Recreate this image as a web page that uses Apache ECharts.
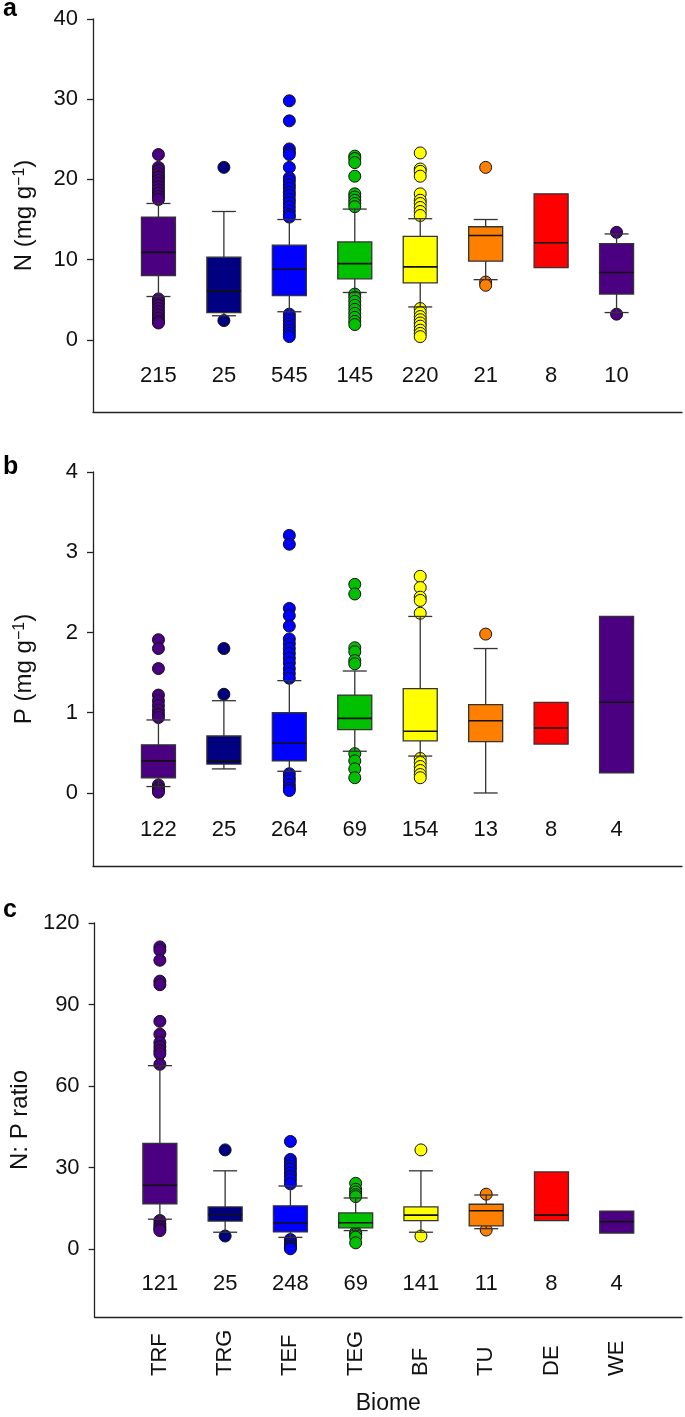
<!DOCTYPE html>
<html><head><meta charset="utf-8">
<script src="https://cdn.jsdelivr.net/npm/echarts@6/dist/echarts.min.js"></script>
<style>html,body{margin:0;padding:0;background:#fff}#c{width:685px;height:1417px}</style>
</head><body><div id="c"></div>
<script>
// ---------- data ----------
const biomes = ['TRF','TRG','TEF','TEG','BF','TU','DE','WE'];
const biomeColors = ['#4B0082','#000080','#0000FF','#00C000','#FFFF00','#FF8000','#FF0000','#4B0082'];

const nCounts  = [215, 25, 545, 145, 220, 21, 8, 10];
const pCounts  = [122, 25, 264, 69, 154, 13, 8, 4];
const npCounts = [121, 25, 248, 69, 141, 11, 8, 4];

const nTicks  = [0, 10, 20, 30, 40];
const pTicks  = [0, 1, 2, 3, 4];
const npTicks = [0, 30, 60, 90, 120];

// [lower whisker, Q1, median, Q3, upper whisker]
const nStats = [
  [5.4, 8.0, 10.9, 15.3, 17.0],
  [3.0, 3.4, 6.1, 10.3, 16.0],
  [3.5, 5.5, 8.8, 11.8, 15.0],
  [5.9, 7.6, 9.5, 12.2, 16.3],
  [4.1, 7.1, 9.1, 12.9, 15.1],
  [7.5, 9.8, 13.0, 14.1, 15.0],
  [9.0, 9.0, 12.1, 18.2, 18.2],
  [3.4, 5.7, 8.4, 12.0, 13.2]
];
const pStats = [
  [0.08, 0.19, 0.40, 0.60, 0.91],
  [0.30, 0.36, 0.40, 0.71, 1.15],
  [0.27, 0.40, 0.62, 1.00, 1.40],
  [0.52, 0.79, 0.93, 1.22, 1.52],
  [0.46, 0.65, 0.77, 1.30, 2.20],
  [0.00, 0.64, 0.90, 1.10, 1.80],
  [0.61, 0.61, 0.81, 1.13, 1.13],
  [0.25, 0.25, 1.13, 2.20, 2.20]
];
const npStats = [
  [11.0, 16.6, 23.5, 38.9, 67.5],
  [6.2, 10.3, 12.7, 15.5, 28.8],
  [4.3, 6.3, 9.6, 15.9, 23.2],
  [6.8, 7.8, 9.7, 13.3, 18.8],
  [6.2, 10.5, 12.5, 15.5, 28.8],
  [7.5, 8.5, 14.1, 16.5, 19.9],
  [10.5, 10.5, 12.5, 28.4, 28.4],
  [5.9, 5.9, 10.1, 14.0, 14.0]
];

// outliers per biome
const nOutliers = [
  [23.1, 21.5, 21.1, 20.7, 20.3, 19.9, 19.5, 19.1, 18.7, 18.3, 17.9, 17.5, 5.1, 4.7, 4.3, 3.9, 3.5, 3.1, 2.7, 2.3, 2.1],
  [21.5, 2.4],
  [29.8, 27.3, 23.8, 23.4, 23.1, 21.5, 20.2, 19.8, 19.3, 18.9, 18.4, 18.0, 17.5, 17.1, 16.6, 16.1, 15.6, 15.3, 3.2, 2.8, 2.4, 2.0, 1.6, 1.2, 0.8, 0.4],
  [22.9, 22.6, 22.1, 20.4, 18.2, 17.8, 17.4, 17.0, 16.6, 5.7, 5.3, 4.8, 4.3, 3.8, 3.3, 2.8, 2.3, 1.9],
  [23.3, 21.3, 21.0, 20.4, 18.2, 17.4, 17.0, 16.5, 16.0, 15.5, 3.9, 3.4, 2.9, 2.5, 2.1, 1.7, 1.2, 0.8, 0.4],
  [21.5, 7.2, 6.8],
  [],
  [13.4, 3.2]
];
const pOutliers = [
  [1.91, 1.80, 1.55, 1.22, 1.15, 1.09, 1.03, 0.98, 0.94, 0.10, 0.06, 0.03, 0.01],
  [1.80, 1.23],
  [3.21, 3.10, 2.30, 2.21, 2.08, 1.92, 1.86, 1.80, 1.74, 1.68, 1.62, 1.55, 1.49, 1.43, 0.24, 0.19, 0.15, 0.10, 0.06, 0.03],
  [2.60, 2.48, 1.81, 1.76, 1.65, 1.61, 0.49, 0.40, 0.30, 0.19],
  [2.70, 2.56, 2.44, 2.40, 2.24, 0.43, 0.38, 0.33, 0.28, 0.23, 0.19],
  [1.98],
  [],
  []
];
const npOutliers = [
  [111.2, 110.0, 106.3, 98.6, 97.3, 83.8, 79.1, 76.0, 74.5, 73.0, 71.8, 68.0, 10.5, 9.2, 8.2, 7.4, 6.8],
  [36.5, 4.8],
  [39.6, 33.0, 31.8, 30.6, 29.4, 28.0, 26.8, 25.5, 24.0, 3.5, 2.6, 1.8, 1.1, 0.5, 0.1],
  [24.2, 22.0, 21.0, 20.0, 19.3, 6.1, 5.4, 4.4, 2.3],
  [36.5, 4.8],
  [20.2, 7.0],
  [],
  []
];

// ---------- chart ----------
const FONT = "'Liberation Sans', Arial, Helvetica, sans-serif";
const TXT = '#111';
const chart = echarts.init(document.getElementById('c'), null, {renderer: 'canvas'});

const panels = [
  {stats: nStats, outs: nOutliers, counts: nCounts, ticks: nTicks, min: -9, max: 40,
   name: '{t|N (mg g}{s|−1}{t|)}', top: 19, height: 393},
  {stats: pStats, outs: pOutliers, counts: pCounts, ticks: pTicks, min: -0.91, max: 4,
   name: '{t|P (mg g}{s|−1}{t|)}', top: 472, height: 394},
  {stats: npStats, outs: npOutliers, counts: npCounts, ticks: npTicks, min: -25, max: 120,
   name: '{t|N: P ratio}', top: 923, height: 394}
];

function boxItem(params, api) {
  const x = api.value(0);
  const lo = api.value(1), q1 = api.value(2), md = api.value(3), q3 = api.value(4), hi = api.value(5);
  const c = biomeColors[params.dataIndex];
  const pLo = api.coord([x, lo]), pQ1 = api.coord([x, q1]), pMd = api.coord([x, md]),
        pQ3 = api.coord([x, q3]), pHi = api.coord([x, hi]);
  const cx = pQ1[0];
  const bw = 34, cw = 24;
  const ls = {stroke: '#333', lineWidth: 1.3};
  const ch = [];
  if (hi > q3) {
    ch.push({type: 'line', shape: {x1: cx, y1: pQ3[1], x2: cx, y2: pHi[1]}, style: ls});
    ch.push({type: 'line', shape: {x1: cx - cw / 2, y1: pHi[1], x2: cx + cw / 2, y2: pHi[1]}, style: ls});
  }
  if (lo < q1) {
    ch.push({type: 'line', shape: {x1: cx, y1: pQ1[1], x2: cx, y2: pLo[1]}, style: ls});
    ch.push({type: 'line', shape: {x1: cx - cw / 2, y1: pLo[1], x2: cx + cw / 2, y2: pLo[1]}, style: ls});
  }
  ch.push({type: 'rect', shape: {x: cx - bw / 2, y: pQ3[1], width: bw, height: pQ1[1] - pQ3[1]},
           style: {fill: c, stroke: '#333', lineWidth: 1.3}});
  ch.push({type: 'line', shape: {x1: cx - bw / 2, y1: pMd[1], x2: cx + bw / 2, y2: pMd[1]},
           style: {stroke: '#111', lineWidth: 1.6}});
  return {type: 'group', children: ch};
}

const grids = [], xAxes = [], yAxes = [], series = [];
panels.forEach((p, g) => {
  grids.push({left: 93, right: 1, top: p.top, height: p.height});
  xAxes.push({
    gridIndex: g, type: 'value', min: 0, max: 9, interval: 1, position: 'bottom',
    axisLine: {show: true, onZero: false, lineStyle: {color: '#222', width: 1.3}},
    axisTick: {show: false}, splitLine: {show: false},
    axisLabel: {inside: true, margin: g === 2 ? 33 : 36, verticalAlign: 'middle', fontSize: 22,
      fontFamily: FONT, color: TXT,
      formatter: v => (p.counts[v - 1] !== undefined ? String(p.counts[v - 1]) : '')}
  });
  yAxes.push({
    gridIndex: g, type: 'value', min: p.min, max: p.max,
    axisLine: {show: true, onZero: false, lineStyle: {color: '#222', width: 1.3}},
    axisTick: {show: true, length: 6, customValues: p.ticks, lineStyle: {color: '#222', width: 1.3}},
    axisLabel: {customValues: p.ticks, margin: 15, fontSize: 22, fontFamily: FONT, color: TXT},
    splitLine: {show: false},
    name: p.name, nameLocation: 'middle', nameGap: 57,
    nameTextStyle: {rich: {
      t: {fontSize: 24, fontFamily: FONT, color: TXT},
      s: {fontSize: 16, fontFamily: FONT, color: TXT, verticalAlign: 'top'}
    }}
  });
  const xi = xAxes.length - 1, yi = yAxes.length - 1;
  const pts = [];
  p.outs.forEach((arr, i) => arr.forEach(v => pts.push([i + 1, v])));
  series.push({
    type: 'scatter', xAxisIndex: xi, yAxisIndex: yi, data: pts, symbol: 'circle', symbolSize: 12,
    itemStyle: {color: prm => biomeColors[prm.data[0] - 1], borderColor: '#111', borderWidth: 1, opacity: 1},
    z: 2
  });
  series.push({
    type: 'custom', xAxisIndex: xi, yAxisIndex: yi,
    data: p.stats.map((s, i) => [i + 1].concat(s)),
    encode: {x: 0, y: [1, 2, 3, 4, 5]},
    renderItem: boxItem, z: 3
  });
});
// category names axis on panel c
xAxes.push({
  gridIndex: 2, type: 'value', min: 0, max: 9, interval: 1, position: 'bottom',
  axisLine: {show: false, onZero: false}, axisTick: {show: false}, splitLine: {show: false},
  axisLabel: {rotate: 90, align: 'left', verticalAlign: 'middle', margin: 59, fontSize: 22,
    fontFamily: FONT, color: TXT, formatter: v => biomes[v - 1] || ''},
  name: 'Biome', nameLocation: 'middle', nameGap: 75,
  nameTextStyle: {fontSize: 23, fontFamily: FONT, color: TXT}
});

chart.setOption({
  animation: false,
  backgroundColor: '#fff',
  grid: grids, xAxis: xAxes, yAxis: yAxes, series: series,
  graphic: [
    {type: 'text', x: 3, y: 22, style: {text: 'a', font: 'bold 25px ' + FONT, fill: '#000', verticalAlign: 'bottom'}},
    {type: 'text', x: 3, y: 480, style: {text: 'b', font: 'bold 25px ' + FONT, fill: '#000', verticalAlign: 'bottom'}},
    {type: 'text', x: 3, y: 923, style: {text: 'c', font: 'bold 25px ' + FONT, fill: '#000', verticalAlign: 'bottom'}}
  ]
});
</script></body></html>
